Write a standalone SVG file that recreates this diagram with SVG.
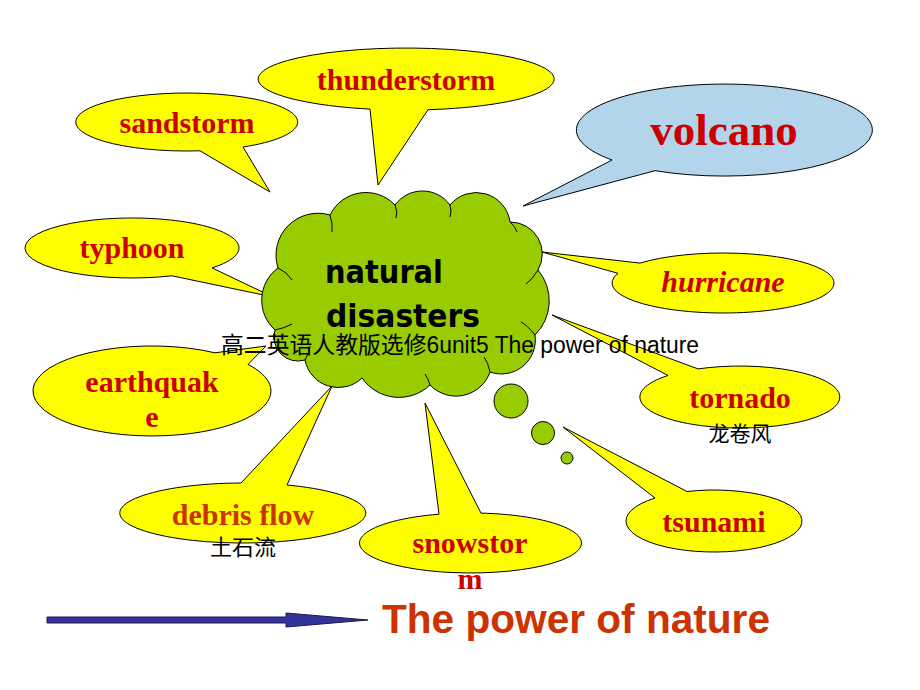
<svg xmlns="http://www.w3.org/2000/svg" width="920" height="690" viewBox="0 0 920 690">
<style>
.bub{fill:#FFFF00;stroke:#000;stroke-width:1;stroke-linejoin:miter}
.blue{fill:#B3D5EB;stroke:#000;stroke-width:1}
.lbl{font-family:"Liberation Serif","Times New Roman",serif;font-weight:bold;font-size:30px;fill:#CC0000;text-anchor:middle}
.cn{font-family:"Noto Sans CJK SC",sans-serif;font-size:21px;fill:#000;text-anchor:middle}
.green{fill:#99CC00;stroke:#000;stroke-width:1}
.crease{fill:none;stroke:#000;stroke-width:1}
</style>
<rect width="920" height="690" fill="#fff"/>
<g id="thunderstorm">
<path class="bub" d="M370,109.1 A148 31 0 1 1 428,109.7 L378,185 Z"/>
<text class="lbl" x="406" y="90">thunderstorm</text>
</g>
<g id="sandstorm">
<path class="bub" d="M200,150.8 A111 29 0 1 1 243,147 L270,192 Z"/>
<text class="lbl" x="187" y="133">sandstorm</text>
</g>
<g id="typhoon">
<path class="bub" d="M172,275.8 A107 30 0 1 1 212,267.9 L273,297 Z"/>
<text class="lbl" x="132" y="258">typhoon</text>
</g>
<g id="volcano">
<path class="blue" d="M612,160 A148 46 0 1 1 655,170.7 L523,206 Z"/>
<text class="lbl" x="724" y="145" style="font-size:45px">volcano</text>
</g>
<g id="hurricane">
<path class="bub" d="M640,263.1 A111 30 0 1 1 618,273.3 L542,252 Z"/>
<text class="lbl" x="723" y="292" style="font-style:italic">hurricane</text>
</g>
<g id="tornado">
<path class="bub" d="M698,368.9 A100 31 0 1 1 668,375.5 L552,315 Z"/>
<text class="lbl" x="740" y="408">tornado</text>
<text class="cn" x="740" y="441">龙卷风</text>
</g>
<g id="tsunami">
<path class="bub" d="M687,491.5 A88 31 0 1 1 655,498 L563,427 Z"/>
<text class="lbl" x="714" y="532">tsunami</text>
</g>
<g id="thought-bubbles">
<circle class="green" cx="511" cy="401" r="17"/>
<circle class="green" cx="543" cy="433" r="11.5"/>
<circle class="green" cx="567" cy="458" r="6"/>
</g>
<g id="snowstorm">
<path class="bub" d="M481,513.1 A111 30 0 1 1 439,514.2 L425,403 Z"/>
<text class="lbl" x="470" y="553">snowstor</text>
<text class="lbl" x="470" y="589">m</text>
</g>
<g id="debris-flow">
<path class="bub" d="M287,485 A123 30 0 1 1 241,483 L332,386 Z"/>
<text class="lbl" x="243" y="525" style="fill:#CC3300">debris flow</text>
<text class="cn" x="243" y="555" style="font-size:22px">土石流</text>
</g>
<g id="earthquake">
<path class="bub" d="M248,364.4 A119 45 0 1 1 215,352.8 L266,346 Z"/>
<text class="lbl" x="152" y="392">earthquak</text>
<text class="lbl" x="152" y="427">e</text>
</g>
<g id="natural-disasters">
<path class="green" d="M275,330 A40 40 0 0 1 278,268 A42 42 0 0 1 330,215 A40 40 0 0 1 395,205 A34 34 0 0 1 450,205 A34 34 0 0 1 510,222 A32 32 0 0 1 538,270 A48 48 0 0 1 535,335 A34 34 0 0 1 490,372 A36 36 0 0 1 430,385 A45 45 0 0 1 362,378 A34 34 0 0 1 305,360 A24 24 0 0 1 275,330 Z"/>
<path class="crease" d="M330,215 Q333,224 332,232 M395,205 Q398,212 396,218 M450,205 Q452,211 450,217 M510,222 Q515,226 517,232 M538,270 Q532,280 526,284 M535,335 Q527,325 521,322 M490,372 Q488,362 484,357 M278,268 Q287,272 292,280 M275,330 Q285,328 292,324 M305,360 Q310,352 310,346 M430,385 Q428,378 425,374"/>
<text x="325" y="283" textLength="118" lengthAdjust="spacingAndGlyphs" style="font-family:'Comic Sans MS','DejaVu Sans',sans-serif;font-weight:bold;font-size:32px;fill:#000">natural</text>
<text x="326" y="327" textLength="154" lengthAdjust="spacingAndGlyphs" style="font-family:'Comic Sans MS','DejaVu Sans',sans-serif;font-weight:bold;font-size:32px;fill:#000">disasters</text>
</g>
<g id="connectors">
<polygon points="47,617 286,617 286,613 368,620 286,627 286,623 47,623" fill="#333399" stroke="#1a1a4d" stroke-width="1"/>
</g>
<g id="title">
<text x="382" y="633" textLength="388" lengthAdjust="spacingAndGlyphs" style="font-family:'Liberation Sans',Arial,sans-serif;font-weight:bold;font-size:40px;fill:#CC3300">The power of nature</text>
</g>
<g id="watermark">
<text x="221" y="353" textLength="478" lengthAdjust="spacingAndGlyphs" style="font-family:'Liberation Sans','Noto Sans CJK SC',sans-serif;font-size:23px;fill:#000">高二英语人教版选修6unit5 The power of nature</text>
</g>
</svg>
